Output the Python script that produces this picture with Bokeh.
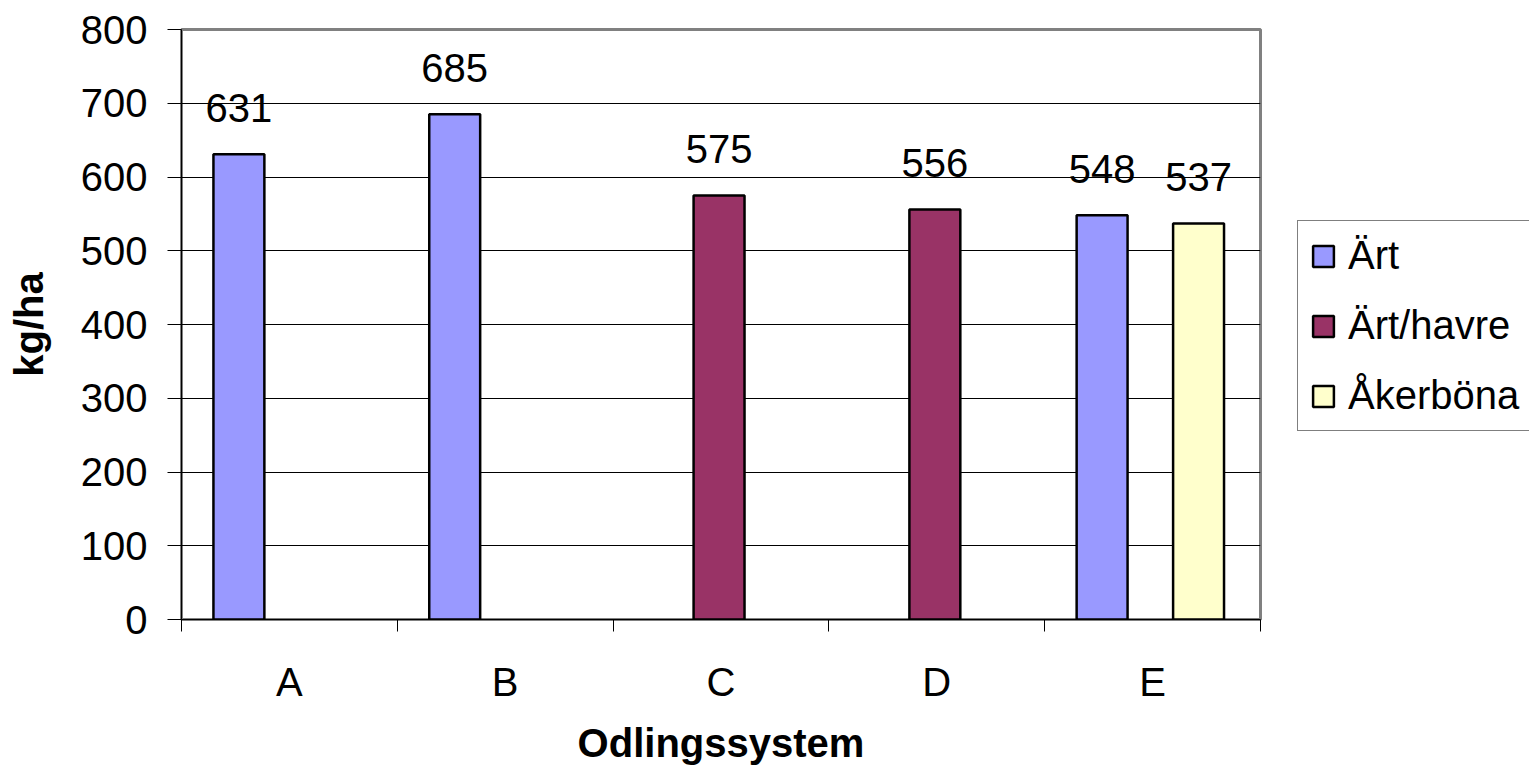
from bokeh.plotting import figure
from bokeh.models import ColumnDataSource, FixedTicker, Legend, LegendItem, Range1d
from bokeh.core.properties import value
from bokeh.embed import file_html
from bokeh.resources import INLINE

# ---- data ----
categories = ["A", "B", "C", "D", "E"]
art = [631, 685, None, None, 548]
art_havre = [None, None, 575, 556, None]
akerbona = [None, None, None, None, 537]
series_names = ["Ärt", "Ärt/havre", "Åkerböna"]
series_values = [art, art_havre, akerbona]
series_colors = ["#9999FF", "#993366", "#FFFFCC"]
y_ticks = [0, 100, 200, 300, 400, 500, 600, 700, 800]
x_title = "Odlingssystem"
y_title = "kg/ha"

FONT = "Liberation Sans"
offsets = [-0.234, -0.009, 0.213]
bar_w = 0.236

p = figure(frame_width=1079, frame_height=590,
           min_border_left=181, min_border_right=261,
           min_border_top=29, min_border_bottom=146,
           x_range=Range1d(0, len(categories)), y_range=Range1d(0, y_ticks[-1]),
           output_backend="svg", toolbar_location=None)

p.background_fill_color = "white"
p.border_fill_color = "white"
p.outline_line_color = "#808080"
p.outline_line_width = 3

# grid
p.xgrid.grid_line_color = None
p.ygrid.ticker = FixedTicker(ticks=y_ticks)
p.ygrid.grid_line_color = "black"
p.ygrid.grid_line_width = 1

# y axis
p.yaxis.ticker = FixedTicker(ticks=y_ticks)
p.yaxis.axis_line_color = "black"
p.yaxis.major_tick_out = 14
p.yaxis.major_tick_in = 0
p.yaxis.minor_tick_line_color = None
p.yaxis.major_label_standoff = 20
p.yaxis.major_label_text_font = FONT
p.yaxis.major_label_text_font_size = "40px"
p.yaxis.major_label_text_color = "black"
p.yaxis.axis_label = y_title
p.yaxis.axis_label_text_font = FONT
p.yaxis.axis_label_text_font_style = "bold"
p.yaxis.axis_label_text_font_size = "40px"
p.yaxis.axis_label_text_color = "black"
p.yaxis.axis_label_standoff = 27

# x axis: labels at category centres, ticks at category boundaries
centres = [i + 0.5 for i in range(len(categories))]
bounds = [i for i in range(len(categories) + 1)]
p.xaxis.ticker = FixedTicker(ticks=centres, minor_ticks=bounds)
p.xaxis.major_label_overrides = {c: cat for c, cat in zip(centres, categories)}
p.xaxis.major_tick_line_color = None
p.xaxis.major_tick_out = 12
p.xaxis.minor_tick_out = 12
p.xaxis.minor_tick_in = 0
p.xaxis.minor_tick_line_color = "black"
p.xaxis.axis_line_color = "black"
p.xaxis.major_label_standoff = 28
p.xaxis.major_label_text_font = FONT
p.xaxis.major_label_text_font_size = "40px"
p.xaxis.major_label_text_color = "black"
p.xaxis.axis_label = x_title
p.xaxis.axis_label_text_font = FONT
p.xaxis.axis_label_text_font_style = "bold"
p.xaxis.axis_label_text_font_size = "40px"
p.xaxis.axis_label_text_color = "black"
p.xaxis.axis_label_standoff = 14

items = []
lx, ly, lt = [], [], []
for s, (name, vals, col) in enumerate(zip(series_names, series_values, series_colors)):
    xs, tops = [], []
    for i, v in enumerate(vals):
        if v is None:
            continue
        xs.append(i + 0.5 + offsets[s])
        tops.append(v)
        lx.append(i + 0.5 + offsets[s])
        ly.append(v)
        lt.append(str(v))
    src = ColumnDataSource(dict(x=xs, top=tops))
    r = p.vbar(x="x", top="top", bottom=0, width=bar_w, source=src,
               fill_color=col, line_color="black", line_width=2.5)
    items.append(LegendItem(label=name, renderers=[r]))

lsrc = ColumnDataSource(dict(x=lx, y=ly, t=lt))
p.text(x="x", y="y", text="t", source=lsrc, text_align="center",
       text_baseline="alphabetic", y_offset=-46,
       text_font=value(FONT), text_font_size="40px", text_color="black")

legend = Legend(items=items, location=(37, 188))
legend.margin = 0
legend.padding = 12
legend.spacing = 25
legend.glyph_width = 26
legend.glyph_height = 26
legend.label_standoff = 12
legend.label_text_font = FONT
legend.label_text_font_size = "40px"
legend.label_text_color = "black"
legend.border_line_color = "black"
legend.border_line_width = 1
legend.background_fill_color = "white"
legend.background_fill_alpha = 1
p.add_layout(legend, "right")

open("out.html", "w").write(file_html(p, INLINE))
